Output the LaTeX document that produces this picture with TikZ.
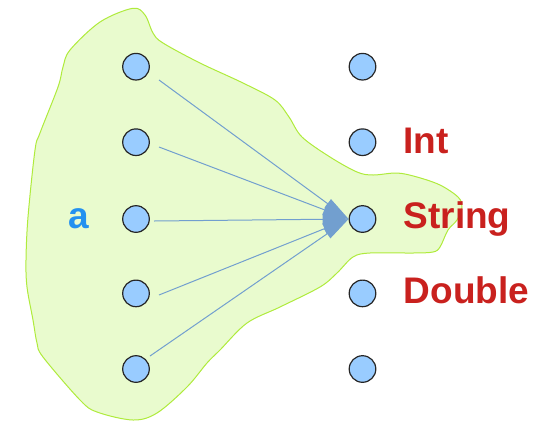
\documentclass[tikz,border=0pt]{standalone}
\usepackage{fontspec}
\setmainfont{Liberation Sans}
\usetikzlibrary{arrows.meta}
\definecolor{blobfill}{RGB}{233,251,206}
\definecolor{blobline}{RGB}{175,235,60}
\definecolor{dotfill}{RGB}{153,204,255}
\definecolor{conncol}{RGB}{114,159,207}
\definecolor{typered}{RGB}{201,33,30}
\definecolor{varblue}{RGB}{35,145,240}
\tikzset{
  dot/.style={circle, draw=black!85, line width=1.2pt, fill=dotfill, minimum size=26.6pt, inner sep=0pt},
  conn/.style={draw=conncol, line width=1pt, -{Triangle[length=26pt,width=11pt,fill=conncol]}},
  typelabel/.style={anchor=base west, inner sep=0pt, text=typered, font=\fontsize{37}{40}\selectfont\bfseries},
  varlabel/.style={anchor=base west, inner sep=0pt, text=varblue, font=\fontsize{37}{40}\selectfont\bfseries},
  blob/.style={fill=blobfill, draw=blobline, line width=1pt}
}
\begin{document}
\begin{tikzpicture}[x=1pt,y=-1pt]
\useasboundingbox (0,0) rectangle (545,421);
% region
\draw[blob] plot[smooth cycle, tension=0.55] coordinates {
(132.7,8.3) (145,15) (153,33) (163,43) (200,63) (243,83) (275,100) (289,117)
(302,137) (330,157) (357,172) (373,175) (397,173) (417,177) (440,185) (458,197)
(462,207) (457,220) (448,230) (440,247) (433,252) (413,253) (370,253) (353,257)
(337,273) (320,287) (280,307) (247,323) (220,350) (207,363) (187,387) (157,413)
(133,420) (97,412) (80,400) (43,357) (37,343) (33,320) (27,287) (26,260)
(28,217) (35,150) (40,133) (58,87) (63,67) (70,50) (100,22)};
% dots
\foreach \i/\y in {1/66.7,2/142.2,3/219,4/293.4,5/369} {
  \node[dot] (l\i) at (136,\y) {};
  \node[dot] (r\i) at (362.5,\y) {};
}
% connector start points
\coordinate (s1) at (159,80);
\coordinate (s2) at (159,147);
\coordinate (s3) at (154,221);
\coordinate (s4) at (159,295);
\coordinate (s5) at (150,356);
\foreach \i in {1,...,5} {
  \draw[conn] (s\i) -- (r3.west);
}
% labels
\node[varlabel] (va) at (68,228.3) {a};
\node[typelabel] (tint) at (403.5,153.3) {Int};
\node[typelabel] (tstr) at (403.5,228) {String};
\node[typelabel] (tdbl) at (403.5,303) {Double};
\end{tikzpicture}
\end{document}
